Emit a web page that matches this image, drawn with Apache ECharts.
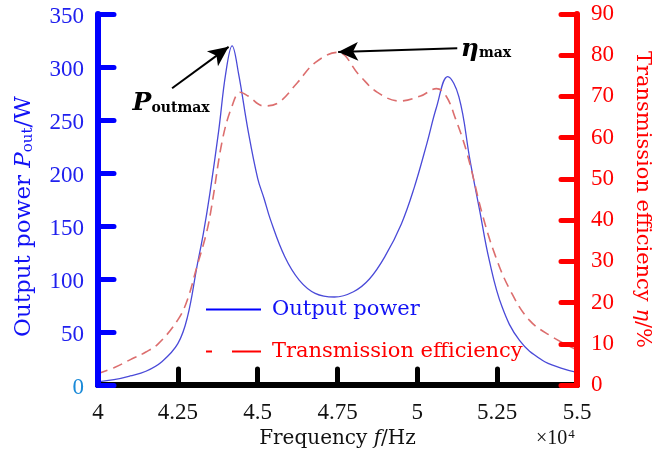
<!DOCTYPE html>
<html><head><meta charset="utf-8">
<script src="https://cdn.jsdelivr.net/npm/echarts@6/dist/echarts.min.js"></script>
<style>html,body{margin:0;padding:0;background:#fff}#c{width:661px;height:461px}</style>
</head><body><div id="c"></div>
<script>
// Frequency in units of 1e4 Hz
const freqPower = [4.00,4.05,4.10,4.15,4.20,4.25,4.28,4.31,4.33,4.35,4.378,4.40,4.42,4.44,4.47,4.50,4.52,4.54,4.585,4.63,4.68,4.74,4.80,4.85,4.90,4.95,4.99,5.03,5.06,5.095,5.13,5.165,5.195,5.225,5.265,5.32,5.39,5.45,5.50];
const power     = [3,5,8.5,13,22,39,64,112,143,180,240,294,320,294,240,195,176,156,121,99,86.5,83,88,100,122,152,186,228,262,291,272,212,165,118,74,42,23.6,16,12];
const freqEff   = [4.00,4.05,4.10,4.15,4.19,4.25,4.28,4.31,4.34,4.356,4.39,4.42,4.445,4.47,4.52,4.565,4.625,4.68,4.75,4.82,4.875,4.945,5.01,5.06,5.09,5.12,5.155,5.205,5.245,5.29,5.35,5.42,5.50];
const efficiency= [2.8,4.2,6.1,8,10.1,15.8,20.7,28.8,37,43.4,59.6,67.7,71,70.1,67.7,68.5,73.4,78.2,80.7,75,71,68.9,70.1,71.9,70.1,64.5,56.4,41,31.2,23.1,15.8,11.8,8.5];
const xInnerTicks = [4.25,4.5,4.75,5,5.25];
const seriesNames = ['Output power','Transmission efficiency'];
// annotation anchors (data units)
const pArrow = [[4.232,280],[4.409,319]];
const pLabel = [4.229,266];
const etaArrow = [[5.125,81.7],[4.752,80.8]];
const etaLabel = [5.215,81.5];

const NUM = 'Liberation Serif';
const TXT = 'DejaVu Serif';
const BLUE = '#1212f5', RED = '#ff0000';

const chart = echarts.init(document.getElementById('c'), null, {renderer:'canvas'});
chart.setOption({
  animation:false,
  backgroundColor:'#fff',
  grid:{left:98,right:79,top:14,bottom:76},
  legend:{
    orient:'vertical', left:200, top:294, itemWidth:55, itemHeight:20, itemGap:21,
    textStyle:{fontFamily:TXT,fontSize:21,padding:[0,0,0,6]},
    data:[
      {name:seriesNames[0], textStyle:{color:BLUE}, itemStyle:{opacity:0}, lineStyle:{color:'#0000ff',width:2,type:'solid'}},
      {name:seriesNames[1], textStyle:{color:RED}, itemStyle:{opacity:0}, lineStyle:{color:RED,width:2,type:[6,20,30,0]}}
    ]
  },
  xAxis:[{
    type:'value', min:4, max:5.5, interval:0.25, position:'bottom',
    name:'Frequency {i|f}/Hz', nameLocation:'middle', nameGap:44,
    nameTextStyle:{fontFamily:TXT,fontSize:20,color:'#111',rich:{i:{fontFamily:TXT,fontStyle:'italic',fontSize:20,color:'#111'}}},
    axisLine:{lineStyle:{color:'#000',width:6}},
    axisTick:{inside:true,length:16,customValues:xInnerTicks,lineStyle:{color:'#000',width:5,cap:'round'}},
    axisLabel:{fontFamily:NUM,fontSize:23,color:'#111',margin:16},
    splitLine:{show:false}
  },{
    type:'value', min:4, max:5.5, position:'top',
    axisLine:{lineStyle:{color:'#000',width:6}}, axisTick:{show:false}, axisLabel:{show:false}, splitLine:{show:false}
  }],
  yAxis:[{
    type:'value', min:0, max:350, interval:50, position:'left', z:5,
    name:'Output power {i|P}{s|out}/W', nameLocation:'middle', nameGap:62, nameRotate:90,
    nameTextStyle:{fontFamily:TXT,fontSize:23,color:BLUE,padding:[0,34,0,0],
      rich:{i:{fontFamily:TXT,fontStyle:'italic',fontSize:23,color:BLUE},s:{fontFamily:TXT,fontSize:15,color:BLUE,padding:[8,0,0,0]}}},
    axisLine:{lineStyle:{color:'#0000ff',width:6}},
    axisTick:{inside:true,length:16,lineStyle:{color:'#0000ff',width:5,cap:'round'}},
    axisLabel:{fontFamily:NUM,fontSize:23,margin:14,padding:[6,0,0,0],
      formatter:v=> v===0?'{z|0}':'{b|'+v+'}',
      rich:{z:{color:'#1a8ad8',fontFamily:NUM,fontSize:23},b:{color:'#2020ee',fontFamily:NUM,fontSize:23}}},
    splitLine:{show:false}
  },{
    type:'value', min:0, max:90, interval:10, position:'right', z:5,
    name:'Transmission efficiency {i|η}/%', nameLocation:'middle', nameGap:55, nameRotate:-90,
    nameTextStyle:{fontFamily:TXT,fontSize:21,color:RED,padding:[0,0,0,0],
      rich:{i:{fontFamily:TXT,fontStyle:'italic',fontSize:21,color:RED}}},
    axisLine:{lineStyle:{color:RED,width:6}},
    axisTick:{inside:true,length:16,lineStyle:{color:RED,width:5,cap:'round'}},
    axisLabel:{fontFamily:NUM,fontSize:23,color:RED,margin:14,padding:[6,0,0,0]},
    splitLine:{show:false}
  }],
  series:[{
    name:seriesNames[0], type:'line', xAxisIndex:0, yAxisIndex:0, smooth:0.4, symbol:'none',
    data:freqPower.map((f,i)=>[f,power[i]]),
    lineStyle:{color:'#4a4ad8',width:1.3}, itemStyle:{color:'#0000ff'},
    markLine:{silent:true, symbol:['none','arrow'], symbolSize:[14,20],
      lineStyle:{color:'#000',width:2,type:'solid'}, label:{show:false},
      data:[[{coord:pArrow[0]},{coord:pArrow[1]}]]},
    markPoint:{silent:true, data:[{coord:pLabel, symbol:'circle', symbolSize:1, itemStyle:{color:'rgba(0,0,0,0)'},
      label:{show:true, position:'inside', formatter:'{p|P}{s|outmax}',
        rich:{p:{fontFamily:TXT,fontStyle:'italic',fontWeight:'bold',fontSize:25,color:'#000'},
              s:{fontFamily:TXT,fontWeight:'bold',fontSize:14,color:'#000',padding:[10,0,0,0]}}}}]}
  },{
    name:seriesNames[1], type:'line', xAxisIndex:0, yAxisIndex:1, smooth:0.4, symbol:'none',
    data:freqEff.map((f,i)=>[f,efficiency[i]]),
    lineStyle:{color:'#dc6e6e',width:1.6,type:[10,6]}, itemStyle:{color:RED},
    markLine:{silent:true, symbol:['none','arrow'], symbolSize:[14,20],
      lineStyle:{color:'#000',width:2,type:'solid'}, label:{show:false},
      data:[[{coord:etaArrow[0]},{coord:etaArrow[1]}]]},
    markPoint:{silent:true, data:[{coord:etaLabel, symbol:'circle', symbolSize:1, itemStyle:{color:'rgba(0,0,0,0)'},
      label:{show:true, position:'inside', formatter:'{p|η}{s|max}',
        rich:{p:{fontFamily:TXT,fontStyle:'italic',fontWeight:'bold',fontSize:25,color:'#000'},
              s:{fontFamily:TXT,fontWeight:'bold',fontSize:14,color:'#000',padding:[8,0,0,0]}}}}]}
  }],
  graphic:[{type:'text', left:536, top:428,
    style:{text:'×10{s|4}', fontFamily:NUM, fontSize:20, fill:'#111',
      rich:{s:{fontFamily:NUM,fontSize:13,fill:'#111',padding:[0,0,8,1]}}}}]
});
</script></body></html>
